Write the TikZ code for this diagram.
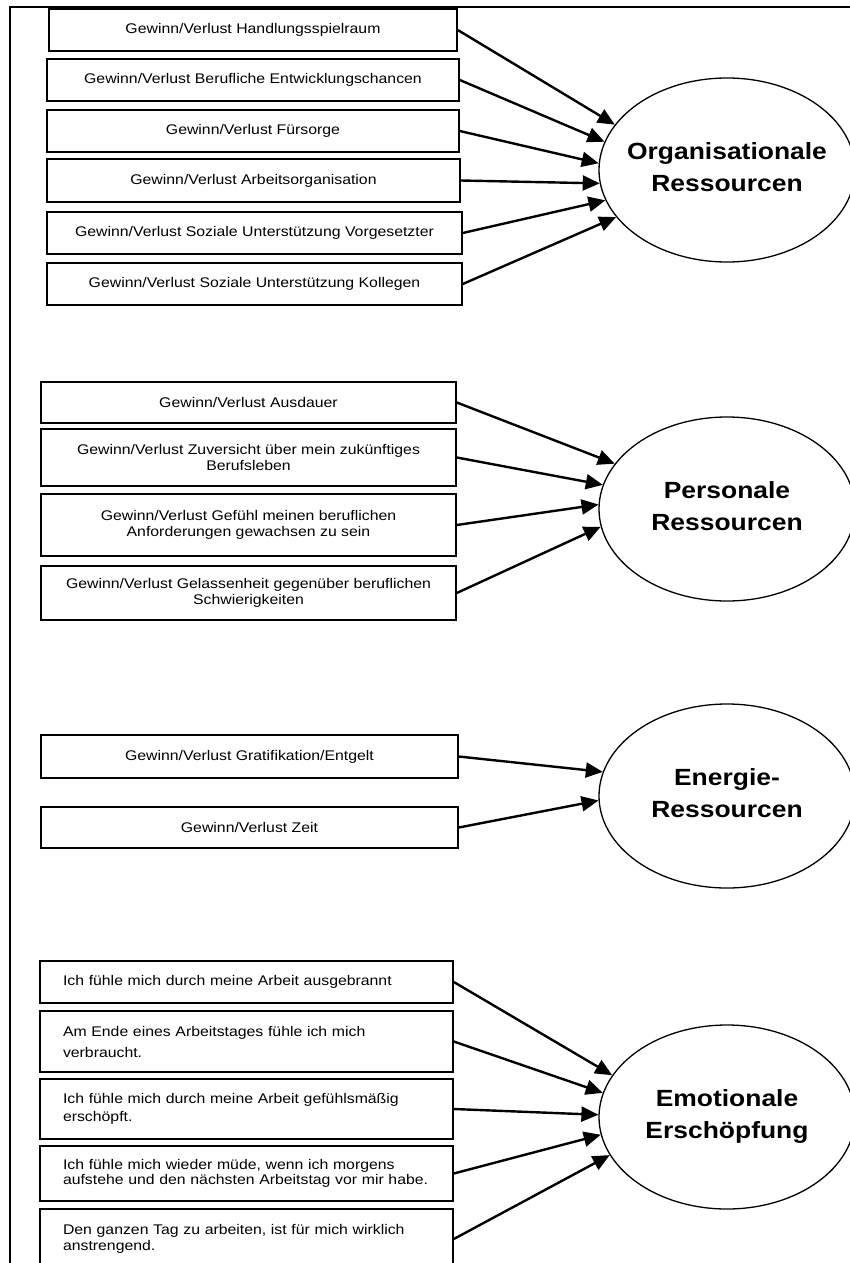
\documentclass[tikz,border=0pt]{standalone}
\usepackage{fontspec}
\setmainfont{Liberation Sans}[FakeStretch=1.13]
\usetikzlibrary{shapes.geometric,arrows.meta}
\begin{document}
\begin{tikzpicture}[x=1pt,y=-1pt,
  item/.style={draw, line width=1.6pt, rectangle, inner sep=0pt, align=center,
    font=\fontsize{14}{16.5}\selectfont},
  itemleft/.style={item, align=left, text width=367pt},
  size/.style 2 args={minimum width=#1pt, minimum height=#2pt},
  factor/.style={draw, line width=1.3pt, ellipse, inner ysep=0pt, inner xsep=-25pt,
    minimum width=256pt, minimum height=184pt, align=center, text depth=6pt,
    font=\fontsize{23.4}{32}\selectfont\bfseries},
  link/.style={line width=2.4pt, -{Triangle[length=17pt,width=15pt]}},
  frame/.style={line width=1.4pt}
]
\clip (0,0) rectangle (850,1263);

% outer frame (top and left edges)
\coordinate (ftl) at (10,7);
\coordinate (ftr) at (852,7);
\coordinate (fbl) at (10,1265);
\draw[frame] (ftr) -- (ftl) -- (fbl);

% ---- organisational resources ----
\node[item, size={408}{42}] (b1) at (253,30)    {Gewinn/Verlust Handlungsspielraum};
\node[item, size={412}{42}] (b2) at (253,80)    {Gewinn/Verlust Berufliche Entwicklungschancen};
\node[item, size={412}{42}] (b3) at (253,131)   {Gewinn/Verlust Fürsorge};
\node[item, size={413}{43}] (b4) at (253.5,180.5) {Gewinn/Verlust Arbeitsorganisation};
\node[item, size={415}{42}] (b5) at (254.5,233) {Gewinn/Verlust Soziale Unterstützung Vorgesetzter};
\node[item, size={415}{42}] (b6) at (254.5,284) {Gewinn/Verlust Soziale Unterstützung Kollegen};
\node[factor] (org) at (727,170) {Organisationale\\Ressourcen};

\draw[link] (b1.east) -- (org.158);
\draw[link] (b2.east) -- (org.167);
\draw[link] (b3.east) -- (org.177);
\draw[link] (b4.east) -- (org.186);
\draw[link] (b5.east) -- (org.194);
\draw[link] (b6.east) -- (org.203);

% ---- personal resources ----
\node[item, size={415}{41}] (p1) at (248.5,402.5) {Gewinn/Verlust Ausdauer};
\node[item, size={415}{57}] (p2) at (248.5,457.5) {Gewinn/Verlust Zuversicht über mein zukünftiges\\Berufsleben};
\node[item, size={415}{62}] (p3) at (248.5,525)   {Gewinn/Verlust Gefühl meinen beruflichen\\Anforderungen gewachsen zu sein};
\node[item, size={415}{54}] (p4) at (248.5,593)   {Gewinn/Verlust Gelassenheit gegenüber beruflichen\\Schwierigkeiten};
\node[factor] (pers) at (727,509) {Personale\\Ressourcen};

\draw[link] (p1.east) -- (pers.158);
\draw[link] (p2.east) -- (pers.169);
\draw[link] (p3.east) -- (pers.178);
\draw[link] (p4.east) -- (pers.188);

% ---- energy resources ----
\node[item, size={417}{43}] (e1) at (249.5,756.5) {Gewinn/Verlust Gratifikation/Entgelt};
\node[item, size={417}{41}] (e2) at (249.5,827.5) {Gewinn/Verlust Zeit};
\node[factor] (ener) at (727,796) {Energie-\\Ressourcen};

\draw[link] (e1.east) -- (ener.169);
\draw[link] (e2.east) -- (ener.182);

% ---- emotional exhaustion ----
\node[itemleft, size={413}{42}] (q1) at (246.5,982) {Ich fühle mich durch meine Arbeit ausgebrannt};
\node[itemleft, size={413}{61}, font=\fontsize{14}{21}\selectfont] (q2) at (246.5,1041.5) {Am Ende eines Arbeitstages fühle ich mich\\verbraucht.};
\node[itemleft, size={413}{60}, font=\fontsize{14}{17.5}\selectfont] (q3) at (246.5,1109) {Ich fühle mich durch meine Arbeit gefühlsmäßig\\erschöpft.};
\node[itemleft, size={413}{55}, font=\fontsize{14}{15.5}\selectfont] (q4) at (246.5,1173.5) {Ich fühle mich wieder müde, wenn ich morgens\\aufstehe und den nächsten Arbeitstag vor mir habe.};
\node[itemleft, size={413}{60}] (q5) at (246.5,1239) {Den ganzen Tag zu arbeiten, ist für mich wirklich\\anstrengend.};
\node[factor] (emo) at (727,1117) {Emotionale\\Erschöpfung};

\draw[link] (q1.east) -- (emo.160);
\draw[link] (q2.east) -- (emo.169);
\draw[link] (q3.east) -- (emo.179);
\draw[link] (q4.east) -- (emo.188);
\draw[link] (q5.east) -- (emo.198);
\end{tikzpicture}
\end{document}
